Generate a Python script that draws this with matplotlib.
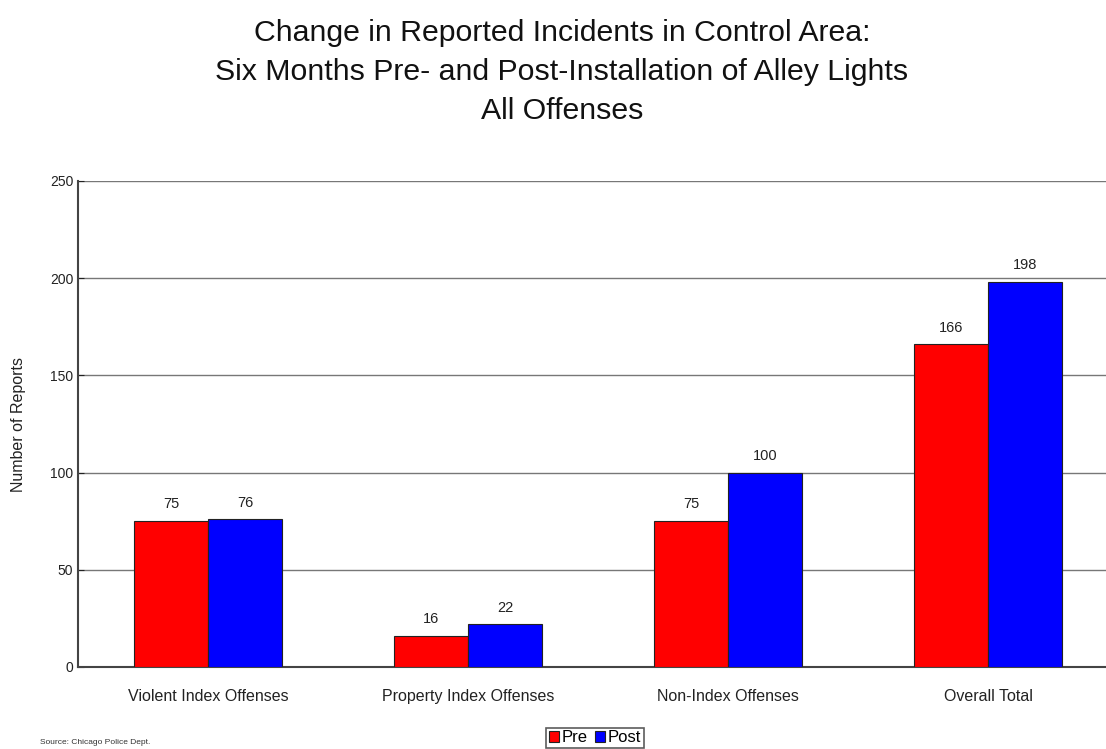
import numpy as np
import matplotlib
matplotlib.use("Agg")
from matplotlib import pyplot as plt

categories = ["Violent Index Offenses", "Property Index Offenses",
              "Non-Index Offenses", "Overall Total"]
pre = [75, 16, 75, 166]
post = [76, 22, 100, 198]

plt.rcParams['font.family'] = ['Liberation Sans', 'DejaVu Sans']

fig = plt.figure(figsize=(11.06, 7.49), dpi=100)
ax = fig.add_axes([78 / 1106, 1 - 667 / 749, 1040 / 1106, 486 / 749])

x = np.arange(len(categories))
w = 0.285
b1 = ax.bar(x - w / 2, pre, w, color='#ff0000', edgecolor='#222222', linewidth=0.8, label='Pre', zorder=3)
b2 = ax.bar(x + w / 2, post, w, color='#0000ff', edgecolor='#222222', linewidth=0.8, label='Post', zorder=3)

# etiquetas de valores encima de las barras
for bars, vals in ((b1, pre), (b2, post)):
    for r, v in zip(bars, vals):
        ax.text(r.get_x() + r.get_width() / 2, v + 5, str(v), ha='center', va='bottom',
                fontsize=10.5, color='#222222')

ax.set_xlim(-0.5, 3.5)
ax.set_ylim(0, 250)
ax.set_yticks(range(0, 251, 50))
ax.set_xticks(x)
ax.set_xticklabels(categories, fontsize=11.5, color='#222222')
ax.tick_params(axis='y', labelsize=10, colors='#222222', length=4, direction='in')
ax.tick_params(axis='x', length=0, pad=16)
ax.grid(axis='y', color='#777777', linewidth=1, zorder=0)
for s in ('top', 'right'):
    ax.spines[s].set_visible(False)
ax.spines['left'].set_color('#444444')
ax.spines['left'].set_linewidth(1.5)
ax.spines['bottom'].set_color('#444444')
ax.spines['bottom'].set_linewidth(1.5)
ax.set_ylabel('Number of Reports', fontsize=11.5, color='#222222', labelpad=17)

fig.text(0.508, 1 - 19 / 749, "Change in Reported Incidents in Control Area:\n"
         "Six Months Pre- and Post-Installation of Alley Lights\nAll Offenses",
         ha='center', va='top', fontsize=21.8, linespacing=1.5, color='#111111')

fig.text(40 / 1106, 1 - 742 / 749, "Source: Chicago Police Dept.", fontsize=6, color='#333333',
         va='center')

leg = fig.legend(loc='center', bbox_to_anchor=(595 / 1106, 1 - 738 / 749), ncol=2,
                 fontsize=12, handlelength=0.6, handleheight=0.6, handletextpad=0.2,
                 columnspacing=0.4, borderpad=0.15, frameon=True, fancybox=False)
leg.get_frame().set_edgecolor('#333333')
leg.get_frame().set_linewidth(1.2)

plt.savefig('out.png', dpi=100)
plt.close()
